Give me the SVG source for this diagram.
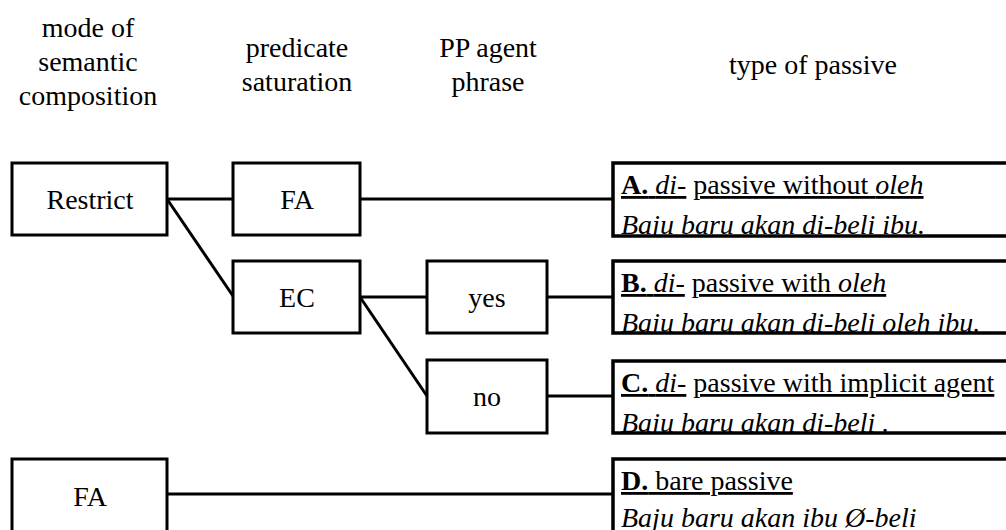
<svg xmlns="http://www.w3.org/2000/svg" width="1006" height="530" viewBox="0 0 1006 530">
<style>
text{font-family:"Liberation Serif","Times New Roman",serif;font-size:28px;fill:#000}
.c{text-anchor:middle}
.box{fill:#fff;stroke:#000;stroke-width:3}
.rbox{fill:none;stroke:#000;stroke-width:3.5}
.conn line{stroke:#000;stroke-width:3}
.b{font-weight:bold}
.i{font-style:italic}
.u{text-decoration:underline}
</style>
<defs>
<clipPath id="cA"><rect x="613" y="163" width="400" height="72"/></clipPath>
<clipPath id="cB"><rect x="613" y="261" width="400" height="71"/></clipPath>
<clipPath id="cC"><rect x="613" y="361" width="400" height="71"/></clipPath>
<clipPath id="cD"><rect x="613" y="459" width="400" height="80"/></clipPath>
</defs>
<rect width="1006" height="530" fill="#fff"/>
<g id="headers">
<text class="c" x="88" y="37">mode of</text>
<text class="c" x="88" y="71">semantic</text>
<text class="c" x="88" y="105">composition</text>
<text class="c" x="297" y="57">predicate</text>
<text class="c" x="297" y="91">saturation</text>
<text class="c" x="488" y="57">PP agent</text>
<text class="c" x="488" y="91">phrase</text>
<text class="c" x="813" y="74">type of passive</text>
</g>
<g class="conn" id="connectors">
<line x1="167" y1="199" x2="233" y2="199"/>
<line x1="167" y1="199" x2="233" y2="296"/>
<line x1="361" y1="199" x2="613" y2="199"/>
<line x1="360" y1="297" x2="427" y2="297"/>
<line x1="360" y1="297" x2="427" y2="396"/>
<line x1="547" y1="297" x2="613" y2="297"/>
<line x1="547" y1="396" x2="613" y2="396"/>
<line x1="167" y1="494" x2="613" y2="494"/>
</g>
<g id="n-restrict"><rect class="box" x="12" y="163" width="155" height="72"/><text class="c" x="90" y="209">Restrict</text></g>
<g id="n-fa1"><rect class="box" x="233" y="163" width="127" height="72"/><text class="c" x="297" y="209">FA</text></g>
<g id="n-ec"><rect class="box" x="233" y="261" width="127" height="72"/><text class="c" x="297" y="307">EC</text></g>
<g id="n-yes"><rect class="box" x="427" y="261" width="120" height="72"/><text class="c" x="487" y="307">yes</text></g>
<g id="n-no"><rect class="box" x="427" y="360" width="120" height="73"/><text class="c" x="487" y="406">no</text></g>
<g id="n-fa2"><rect class="box" x="12" y="459" width="155" height="80"/><text class="c" x="90" y="506">FA</text></g>
<g id="n-A">
<g clip-path="url(#cA)">
<text x="621" y="194"><tspan class="b u">A.</tspan><tspan class="u"> </tspan><tspan class="i u">di-</tspan> <tspan class="u">passive without </tspan><tspan class="i u">oleh</tspan></text>
<text class="i" x="621" y="234">Baju baru akan di-beli ibu.</text>
</g>
<rect class="rbox" x="613" y="163" width="420" height="73"/>
</g>
<g id="n-B">
<g clip-path="url(#cB)">
<text x="621" y="292"><tspan class="b u">B.</tspan><tspan class="u"> </tspan><tspan class="i u">di-</tspan> <tspan class="u">passive with </tspan><tspan class="i u">oleh</tspan></text>
<text class="i" x="621" y="332">Baju baru akan di-beli oleh ibu.</text>
</g>
<rect class="rbox" x="613" y="261" width="420" height="72"/>
</g>
<g id="n-C">
<g clip-path="url(#cC)">
<text x="621" y="392"><tspan class="b u">C.</tspan><tspan class="u"> </tspan><tspan class="i u">di-</tspan> <tspan class="u">passive with implicit agent</tspan></text>
<text class="i" x="621" y="432">Baju baru akan di-beli .</text>
</g>
<rect class="rbox" x="613" y="361" width="420" height="72"/>
</g>
<g id="n-D">
<g clip-path="url(#cD)">
<text x="621" y="490"><tspan class="b u">D.</tspan><tspan class="u"> bare passive</tspan></text>
<text class="i" x="621" y="527">Baju baru akan ibu Ø-beli</text>
</g>
<rect class="rbox" x="613" y="459" width="420" height="90"/>
</g>
</svg>
